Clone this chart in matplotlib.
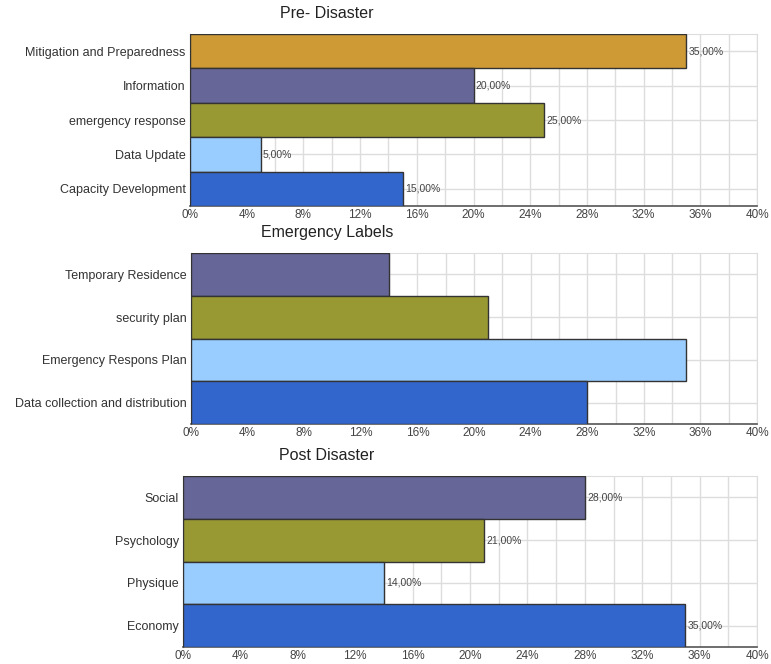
import numpy as np
import matplotlib.pyplot as plt

plt.rcParams['font.family'] = ['Liberation Sans', 'DejaVu Sans']

# data, top to bottom in each panel
pre_labels = ['Mitigation and Preparedness', 'Information', 'emergency response',
              'Data Update', 'Capacity Development']
pre_values = [35, 20, 25, 5, 15]
pre_colors = ['#CE9A35', '#666699', '#999933', '#99CCFF', '#3366CC']

emg_labels = ['Temporary Residence', 'security plan', 'Emergency Respons Plan',
              'Data collection and distribution']
emg_values = [14, 21, 35, 28]
emg_colors = ['#666699', '#999933', '#99CCFF', '#3366CC']

post_labels = ['Social', 'Psychology', 'Physique', 'Economy']
post_values = [28, 21, 14, 35]
post_colors = ['#666699', '#999933', '#99CCFF', '#3366CC']

xticks = np.arange(0, 41, 4)

W, H = 771, 664
fig = plt.figure(figsize=(W / 100, H / 100), dpi=100)


def panel(rect, title, labels, values, colors, show_values):
    l, t, r, b = rect
    ax = fig.add_axes([l / W, 1 - b / H, (r - l) / W, (b - t) / H])
    y = np.arange(len(labels))
    ax.barh(y, values, height=1.0, color=colors, edgecolor='#333333',
            linewidth=1.0, zorder=3)
    ax.set_xlim(0, 40)
    ax.set_ylim(len(labels) - 0.5, -0.5)
    ax.set_yticks(y)
    ax.set_yticklabels(labels, fontsize=9, color='#333333')
    ax.set_xticks(xticks)
    ax.set_xticklabels(['%d%%' % v for v in xticks], fontsize=8.5, color='#444444')
    ax.set_xticks(np.arange(0, 41, 2), minor=True)
    ax.tick_params(which='both', length=0)
    ax.tick_params(axis='x', pad=2)
    ax.tick_params(axis='y', pad=3)
    ax.grid(True, which='both', axis='x', color='#dddddd', linewidth=1, zorder=0)
    ax.grid(True, which='major', axis='y', color='#dddddd', linewidth=1, zorder=0)
    for s in ['top', 'right']:
        ax.spines[s].set_color('#dddddd')
    ax.spines['left'].set_color('#333333')
    ax.spines['bottom'].set_color('#555555')
    ax.spines['bottom'].set_linewidth(1.2)
    if show_values:
        for yi, v in zip(y, values):
            ax.text(v + 0.15, yi, ('%.2f%%' % v).replace('.', ','),
                    va='center', ha='left', fontsize=7.5, color='#444444', zorder=4)
    fig.text(327 / W, 1 - (t - 20) / H, title, ha='center', va='center',
             fontsize=11.5, color='#222222')
    return ax


panel((190, 34, 757, 206), 'Pre- Disaster', pre_labels, pre_values, pre_colors, True)
panel((191, 253, 757, 424), 'Emergency Labels', emg_labels, emg_values, emg_colors, False)
panel((183, 476, 757, 647), 'Post Disaster', post_labels, post_values, post_colors, True)

plt.savefig('out.png', dpi=100)
